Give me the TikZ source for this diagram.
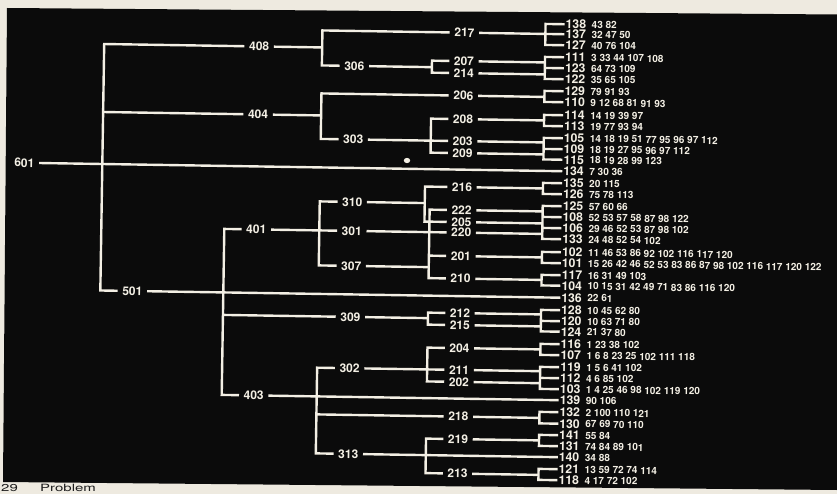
\documentclass[tikz,border=0pt]{standalone}
\usepackage{fontspec}
\setmainfont{TeX Gyre Heros}
\newfontfamily\captfont[FakeStretch=1.5]{TeX Gyre Heros}
\definecolor{bg}{HTML}{0B0B0B}
\definecolor{fg}{HTML}{F3EFE4}
\definecolor{paper}{HTML}{EEEAE0}
\definecolor{ink}{HTML}{1C1C1C}
\tikzset{
  wire/.style={draw=fg, line width=2.4pt, line join=miter},
  inode/.style={text=fg, font=\bfseries\fontsize{12}{12}\selectfont, inner xsep=4.5pt, inner ysep=0pt},
  leaf/.style={text=fg, font=\bfseries\fontsize{12.2}{12}\selectfont, anchor=west, inner xsep=1pt, inner ysep=0pt},
  nums/.style={text=fg, font=\bfseries\fontsize{10}{10}\selectfont, anchor=west, inner sep=0pt},
  capt/.style={text=ink, font=\captfont\fontsize{10}{10}\selectfont, anchor=base west, inner sep=0pt}
}
\newcommand\leafrow[3]{\node[leaf] (L#1) at (561,#2) {#1}; \node[nums] (N#1) at (588,#2) {#3};}
\newcommand\inn[3]{\node[inode] (n#1) at (#2,#3) {#1};}
\begin{document}
\begin{tikzpicture}[x=1pt,y=-1pt]
\useasboundingbox (0,0) rectangle (837,494);
\fill[paper] (0,0) rectangle (837,494);
\fill[bg] (7,8) -- (837,14.5) -- (837,490) -- (3,482) -- cycle;
\node[capt] (cap29) at (1,491.6) {29};
\node[capt] (capP) at (40,491.6) {Problem};
\fill[fg] (407,160.5) ellipse (3.2 and 2.6);
\begin{scope}[transform canvas={rotate around={-0.9:(420,250)}}]
\coordinate (x601) at (101,0);
\coordinate (x501) at (224,0);
\coordinate (x4) at (319,0);
\coordinate (x3) at (429,0);
\coordinate (x310) at (424,0);
\coordinate (xl) at (542,0);
% leaves
\leafrow{138}{22}{43 82}
\leafrow{137}{32}{32 47 50}
\leafrow{127}{43}{40 76 104}
\leafrow{111}{55}{3 33 44 107 108}
\leafrow{123}{66}{64 73 109}
\leafrow{122}{77}{35 65 105}
\leafrow{129}{89}{79 91 93}
\leafrow{110}{100}{9 12 68 81 91 93}
\leafrow{114}{113}{14 19 39 97}
\leafrow{113}{124}{19 77 93 94}
\leafrow{105}{136}{14 18 19 51 77 95 96 97 112}
\leafrow{109}{147}{18 19 27 95 96 97 112}
\leafrow{115}{157.5}{18 19 28 99 123}
\leafrow{134}{169}{7 30 36}
\leafrow{135}{181}{20 115}
\leafrow{126}{192}{75 78 113}
\leafrow{125}{204}{57 60 66}
\leafrow{108}{215}{52 53 57 58 87 98 122}
\leafrow{106}{226}{29 46 52 53 87 98 102}
\leafrow{133}{237}{24 48 52 54 102}
\leafrow{102}{250}{11 46 53 86 92 102 116 117 120}
\leafrow{101}{261}{15 26 42 46 52 53 83 86 87 98 102 116 117 120 122}
\leafrow{117}{273}{16 31 49 103}
\leafrow{104}{283.5}{10 15 31 42 49 71 83 86 116 120}
\leafrow{136}{295.5}{22 61}
\leafrow{128}{308}{10 45 62 80}
\leafrow{120}{319}{10 63 71 80}
\leafrow{124}{329.5}{21 37 80}
\leafrow{116}{342}{1 23 38 102}
\leafrow{107}{353}{1 6 8 23 25 102 111 118}
\leafrow{119}{365}{1 5 6 41 102}
\leafrow{112}{376}{4 6 85 102}
\leafrow{103}{387}{1 4 25 46 98 102 119 120}
\leafrow{139}{398}{90 106}
\leafrow{132}{410}{2 100 110 121}
\leafrow{130}{421.5}{67 69 70 110}
\leafrow{141}{433}{55 84}
\leafrow{131}{444}{74 84 89 101}
\leafrow{140}{455}{34 88}
\leafrow{121}{467}{13 59 72 74 114}
\leafrow{118}{478}{4 17 72 102}
% interior nodes
\inn{601}{23}{169}
\inn{501}{133}{295.5}
\inn{408}{256}{49}
\inn{404}{256}{117}
\inn{401}{256}{232}
\inn{403}{256}{398}
\inn{306}{351.5}{67}
\inn{303}{351.5}{140.5}
\inn{310}{351.5}{203}
\inn{301}{351.5}{232}
\inn{307}{351.5}{267}
\inn{309}{351.5}{318}
\inn{302}{351.5}{369.3}
\inn{313}{351.5}{455}
\inn{217}{461}{32}
\inn{207}{461}{60.5}
\inn{214}{461}{72.5}
\inn{206}{461}{95}
\inn{208}{461}{118.5}
\inn{203}{461}{140.5}
\inn{209}{461}{152.5}
\inn{216}{461}{186.5}
\inn{222}{461}{209.5}
\inn{205}{461}{221.5}
\inn{220}{461}{232}
\inn{201}{461}{255.5}
\inn{210}{461}{278}
\inn{212}{461}{312.5}
\inn{215}{461}{324.5}
\inn{204}{461}{347.5}
\inn{211}{461}{369.3}
\inn{202}{461}{381.3}
\inn{218}{461}{416}
\inn{219}{461}{438.5}
\inn{213}{461}{473}
% level 6
\draw[wire] (n408.west) -| (x601 |- n501) -- (n501.west);
\draw[wire] (x601 |- n404) -- (n404.west);
\draw[wire] (n601.east) -- (L134.west);
% level 5
\draw[wire] (n401.west) -| (x501 |- n403) -- (n403.west);
\draw[wire] (x501 |- n309) -- (n309.west);
\draw[wire] (n501.east) -- (L136.west);
% level 4
\draw[wire] (n217.west) -| (x4 |- n306) -- (n306.west);
\draw[wire] (n408.east) -- (x4 |- n408);
\draw[wire] (n206.west) -| (x4 |- n303) -- (n303.west);
\draw[wire] (n404.east) -- (x4 |- n404);
\draw[wire] (n310.west) -| (x4 |- n307) -- (n307.west);
\draw[wire] (n401.east) -- (n301.west);
\draw[wire] (n302.west) -| (x4 |- n313) -- (n313.west);
\draw[wire] (x4 |- n218) -- (n218.west);
\draw[wire] (n403.east) -- (L139.west);
% level 3
\draw[wire] (n207.west) -| (x3 |- n214) -- (n214.west);
\draw[wire] (n306.east) -- (x3 |- n306);
\draw[wire] (n208.west) -| (x3 |- n209) -- (n209.west);
\draw[wire] (n303.east) -- (n203.west);
\draw[wire] (n216.west) -| (x310 |- n205) -- (n205.west);
\draw[wire] (n310.east) -- (x310 |- n310);
\draw[wire] (n222.west) -| (x3 |- n210) -- (n210.west);
\draw[wire] (n301.east) -- (n220.west);
\draw[wire] (x3 |- n201) -- (n201.west);
\draw[wire] (n307.east) -- (x3 |- n307);
\draw[wire] (n212.west) -| (x3 |- n215) -- (n215.west);
\draw[wire] (n309.east) -- (x3 |- n309);
\draw[wire] (n204.west) -| (x3 |- n202) -- (n202.west);
\draw[wire] (n302.east) -- (n211.west);
\draw[wire] (n219.west) -| (x3 |- n213) -- (n213.west);
\draw[wire] (n313.east) -- (L140.west);
% leaf brackets
\draw[wire] (L138.west) -| (xl |- L127) -- (L127.west);
\draw[wire] (n217.east) -- (L137.west);
\draw[wire] (L111.west) -| (xl |- L122) -- (L122.west);
\draw[wire] (xl |- L123) -- (L123.west);
\draw[wire] (n207.east) -- (xl |- n207);
\draw[wire] (n214.east) -- (xl |- n214);
\draw[wire] (L129.west) -| (xl |- L110) -- (L110.west);
\draw[wire] (n206.east) -- (xl |- n206);
\draw[wire] (L114.west) -| (xl |- L113) -- (L113.west);
\draw[wire] (n208.east) -- (xl |- n208);
\draw[wire] (L105.west) -| (xl |- L115) -- (L115.west);
\draw[wire] (xl |- L109) -- (L109.west);
\draw[wire] (n203.east) -- (xl |- n203);
\draw[wire] (n209.east) -- (xl |- n209);
\draw[wire] (L135.west) -| (xl |- L126) -- (L126.west);
\draw[wire] (n216.east) -- (xl |- n216);
\draw[wire] (L125.west) -| (xl |- L133) -- (L133.west);
\draw[wire] (xl |- L108) -- (L108.west);
\draw[wire] (xl |- L106) -- (L106.west);
\draw[wire] (n222.east) -- (xl |- n222);
\draw[wire] (n205.east) -- (xl |- n205);
\draw[wire] (n220.east) -- (xl |- n220);
\draw[wire] (L102.west) -| (xl |- L101) -- (L101.west);
\draw[wire] (n201.east) -- (xl |- n201);
\draw[wire] (L117.west) -| (xl |- L104) -- (L104.west);
\draw[wire] (n210.east) -- (xl |- n210);
\draw[wire] (L128.west) -| (xl |- L124) -- (L124.west);
\draw[wire] (xl |- L120) -- (L120.west);
\draw[wire] (n212.east) -- (xl |- n212);
\draw[wire] (n215.east) -- (xl |- n215);
\draw[wire] (L116.west) -| (xl |- L107) -- (L107.west);
\draw[wire] (n204.east) -- (xl |- n204);
\draw[wire] (L119.west) -| (xl |- L103) -- (L103.west);
\draw[wire] (xl |- L112) -- (L112.west);
\draw[wire] (n211.east) -- (xl |- n211);
\draw[wire] (n202.east) -- (xl |- n202);
\draw[wire] (L132.west) -| (xl |- L130) -- (L130.west);
\draw[wire] (n218.east) -- (xl |- n218);
\draw[wire] (L141.west) -| (xl |- L131) -- (L131.west);
\draw[wire] (n219.east) -- (xl |- n219);
\draw[wire] (L121.west) -| (xl |- L118) -- (L118.west);
\draw[wire] (n213.east) -- (xl |- n213);
\end{scope}
\end{tikzpicture}
\end{document}
